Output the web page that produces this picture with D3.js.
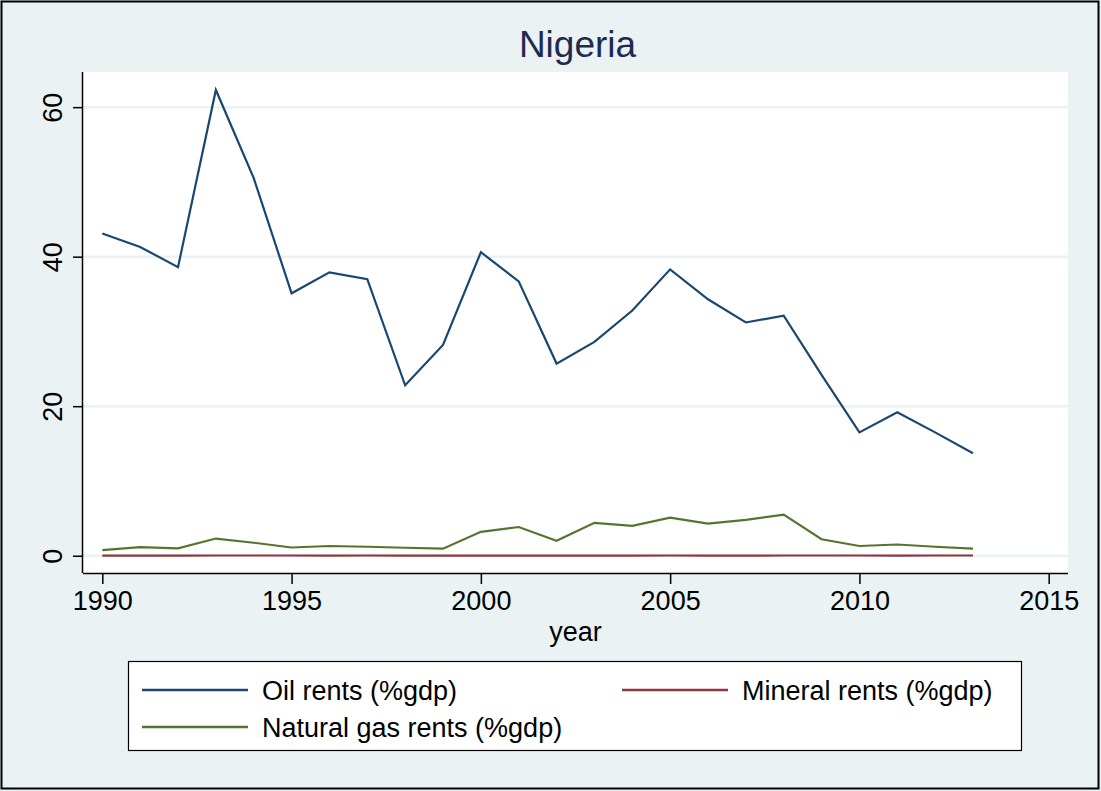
<!DOCTYPE html>
<html><head><meta charset="utf-8">
<script src="https://cdn.jsdelivr.net/npm/d3@7"></script>
<style>body{margin:0;background:#fff}svg{display:block}text{font-family:"Liberation Sans",Arial,sans-serif}</style>
</head><body>
<script>
const years = d3.range(1990, 2014);
const oilRents = [43.1,41.3,38.6,62.3,50.5,35.1,37.9,37.0,22.8,28.2,40.6,36.7,25.7,28.6,32.8,38.3,34.3,31.2,32.1,24.2,16.5,19.2,16.5,13.7];
const mineralRents = [0.02,0.02,0.02,0.03,0.03,0.03,0.02,0.03,0.02,0.02,0.02,0.02,0.02,0.02,0.02,0.03,0.02,0.02,0.03,0.03,0.03,0.02,0.03,0.03];
const gasRents = [0.76,1.16,0.99,2.3,1.74,1.1,1.3,1.2,1.07,0.94,3.2,3.84,2.0,4.4,4.0,5.1,4.3,4.8,5.5,2.2,1.3,1.5,1.2,0.94];
const xTicks = [1990,1995,2000,2005,2010,2015];
const yTicks = [0,20,40,60];
const seriesNames = ["Oil rents (%gdp)","Mineral rents (%gdp)","Natural gas rents (%gdp)"];
const title = "Nigeria";
const xTitle = "year";

const W=1101,H=791;
const svg=d3.select("body").append("svg").attr("width",W).attr("height",H);
svg.append("rect").attr("x",0).attr("y",0).attr("width",W).attr("height",H).attr("fill","#eaf2f3");
svg.append("rect").attr("x",1.5).attr("y",1.5).attr("width",W-4).attr("height",H-4).attr("fill","none").attr("stroke","#000").attr("stroke-width",2);

const L=83,R=1068,T=72,B=573;
const x=d3.scaleLinear().domain([1989.49,2015.51]).range([L,R]);
const y=d3.scaleLinear().domain([-2.31,64.7]).range([B,T]);

svg.append("rect").attr("x",L).attr("y",T).attr("width",R-L).attr("height",B-T).attr("fill","#fff");
svg.append("g").selectAll("line").data(yTicks).join("line")
  .attr("x1",L).attr("x2",R).attr("y1",d=>y(d)).attr("y2",d=>y(d))
  .attr("stroke","#eaf2f3").attr("stroke-width",2.5);

const colors=["#1a476f","#90353b","#55752f"];
const data=[oilRents,mineralRents,gasRents];
const line=d3.line().x((d,i)=>x(years[i])).y(d=>y(d));
[2,1,0].forEach(k=>{
  svg.append("path").attr("d",line(data[k])).attr("fill","none").attr("stroke",colors[k]).attr("stroke-width",2.2).attr("stroke-linejoin","miter");
});

const gx=svg.append("g").attr("transform",`translate(0,${B})`)
  .call(d3.axisBottom(x).tickValues(xTicks).tickSize(11).tickPadding(7).tickFormat(d3.format("d")));
gx.select(".domain").attr("d",`M${L},0.5H${R}`).attr("stroke","#000").attr("stroke-width",1.5);
gx.selectAll(".tick line").attr("stroke","#000").attr("stroke-width",1.5);
gx.selectAll(".tick text").attr("font-size",27).attr("fill","#000").attr("font-family","Liberation Sans, Arial, sans-serif");

const gy=svg.append("g").attr("transform",`translate(${L},0)`)
  .call(d3.axisLeft(y).tickValues(yTicks).tickSize(10).tickFormat(d3.format("d")));
gy.select(".domain").attr("d",`M-0.5,${T}V${B}`).attr("stroke","#000").attr("stroke-width",1.5);
gy.selectAll(".tick line").attr("stroke","#000").attr("stroke-width",1.5);
gy.selectAll(".tick text").attr("font-size",27).attr("fill","#000").attr("font-family","Liberation Sans, Arial, sans-serif")
  .attr("text-anchor","middle").attr("x",0).attr("dy",0)
  .attr("transform","translate(-21,0) rotate(-90)");

svg.append("text").attr("x",(L+R)/2+2).attr("y",57).attr("text-anchor","middle").attr("font-size",37).attr("fill","#1e2a4e").text(title);
svg.append("text").attr("x",(L+R)/2).attr("y",641).attr("text-anchor","middle").attr("font-size",27).attr("fill","#000").text(xTitle);

const lg=svg.append("g");
lg.append("rect").attr("x",128.5).attr("y",661.5).attr("width",893).attr("height",89).attr("fill","#fff").attr("stroke","#000").attr("stroke-width",1.2);
const items=[{k:0,x:142,y:690},{k:1,x:622,y:690},{k:2,x:142,y:727}];
items.forEach(it=>{
  lg.append("line").attr("x1",it.x).attr("x2",it.x+106).attr("y1",it.y).attr("y2",it.y).attr("stroke",colors[it.k]).attr("stroke-width",2.5);
  lg.append("text").attr("x",it.x+120).attr("y",it.y+9.5).attr("font-size",27).attr("fill","#000").text(seriesNames[it.k]);
});
</script>
</body></html>
